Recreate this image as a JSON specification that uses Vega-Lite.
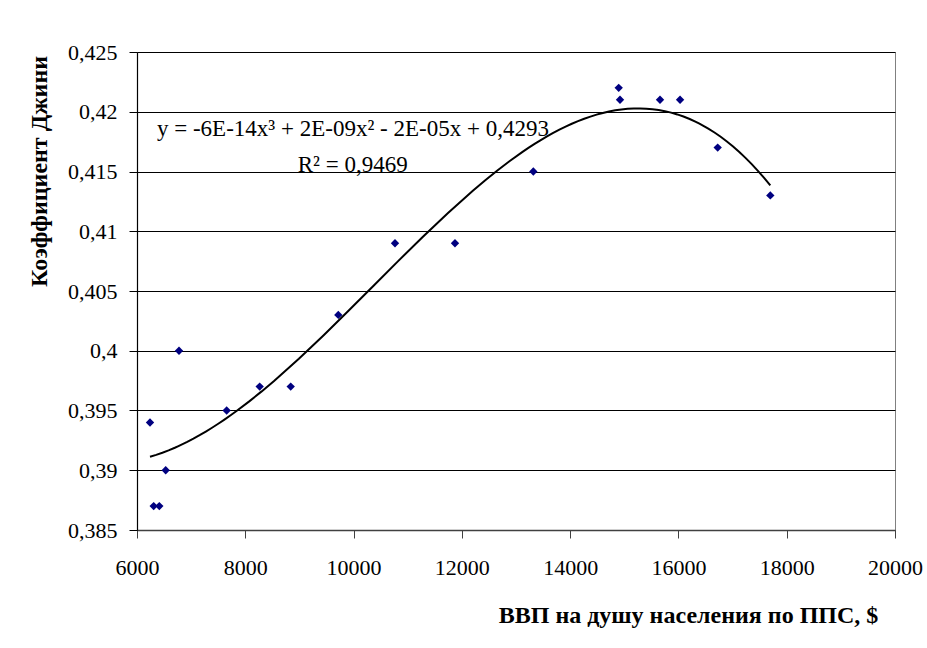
{
  "$schema": "https://vega.github.io/schema/vega-lite/v6.json",
  "width": 758,
  "height": 478,
  "autosize": {"type": "none"},
  "padding": {"left": 137, "top": 52, "right": 32, "bottom": 118},
  "background": "white",
  "config": {
    "font": "Liberation Serif",
    "view": {"stroke": "#808080", "strokeWidth": 1}
  },
  "datasets": {
    "points": [
      {"gdp": 6240, "gini": 0.394},
      {"gdp": 6308, "gini": 0.387},
      {"gdp": 6412, "gini": 0.387},
      {"gdp": 6530, "gini": 0.390},
      {"gdp": 6776, "gini": 0.400},
      {"gdp": 7656, "gini": 0.395},
      {"gdp": 8266, "gini": 0.397},
      {"gdp": 8839, "gini": 0.397},
      {"gdp": 9718, "gini": 0.403},
      {"gdp": 10765, "gini": 0.409},
      {"gdp": 11873, "gini": 0.409},
      {"gdp": 13320, "gini": 0.415},
      {"gdp": 14897, "gini": 0.422},
      {"gdp": 14921, "gini": 0.421},
      {"gdp": 15660, "gini": 0.421},
      {"gdp": 16030, "gini": 0.421},
      {"gdp": 16725, "gini": 0.417},
      {"gdp": 17697, "gini": 0.413}
    ],
    "labels": [
      {"gdp": 6369, "gini": 0.41797, "label": "y = -6E-14x³ + 2E-09x² - 2E-05x + 0,4293"},
      {"gdp": 8968, "gini": 0.41498, "label": "R² = 0,9469"}
    ]
  },
  "encoding": {
    "x": {
      "field": "gdp",
      "type": "quantitative",
      "scale": {"domain": [6000, 20000], "nice": false, "zero": false},
      "axis": {
        "values": [6000, 8000, 10000, 12000, 14000, 16000, 18000, 20000],
        "format": "d",
        "grid": false,
        "labelFlush": false,
        "labelOverlap": false,
        "domainColor": "#404040",
        "domainWidth": 1.5,
        "tickColor": "#404040",
        "tickSize": 8,
        "tickWidth": 1,
        "labelFont": "Liberation Serif",
        "labelFontSize": 22,
        "labelColor": "black",
        "labelPadding": 19,
        "title": "ВВП на душу населения по ППС, $",
        "titleFont": "Liberation Serif",
        "titleFontSize": 24,
        "titleFontWeight": "bold",
        "titleColor": "black",
        "titleX": 551,
        "titleY": 85,
        "titleAlign": "center",
        "titleBaseline": "middle"
      }
    },
    "y": {
      "field": "gini",
      "type": "quantitative",
      "scale": {"domain": [0.385, 0.425], "nice": false, "zero": false},
      "axis": {
        "values": [0.385, 0.39, 0.395, 0.4, 0.405, 0.41, 0.415, 0.42, 0.425],
        "labelExpr": "replace(toString(datum.value), '.', ',')",
        "labelFlush": false,
        "labelOverlap": false,
        "grid": true,
        "gridColor": "black",
        "gridOpacity": 1,
        "gridWidth": 1.2,
        "domainColor": "black",
        "domainWidth": 1.2,
        "tickColor": "black",
        "tickSize": 8,
        "tickWidth": 1,
        "labelFont": "Liberation Serif",
        "labelFontSize": 22,
        "labelColor": "black",
        "labelPadding": 12,
        "title": "Коэффициент Джини",
        "titleFont": "Liberation Serif",
        "titleFontSize": 24,
        "titleFontWeight": "bold",
        "titleColor": "black",
        "titleAngle": -90,
        "titleX": -98,
        "titleY": 119,
        "titleAlign": "center",
        "titleBaseline": "middle"
      }
    }
  },
  "layer": [
    {
      "data": {"name": "points"},
      "mark": {"type": "point", "shape": "diamond", "filled": true, "color": "#000080", "size": 70, "opacity": 1}
    },
    {
      "data": {"name": "points"},
      "transform": [
        {"regression": "gini", "on": "gdp", "method": "poly", "order": 3}
      ],
      "mark": {"type": "line", "color": "black", "strokeWidth": 2}
    },
    {
      "data": {"name": "labels"},
      "mark": {"type": "text", "align": "left", "baseline": "alphabetic", "fontSize": 23, "font": "Liberation Serif", "color": "black"},
      "encoding": {
        "text": {"field": "label", "type": "nominal"}
      }
    }
  ]
}
